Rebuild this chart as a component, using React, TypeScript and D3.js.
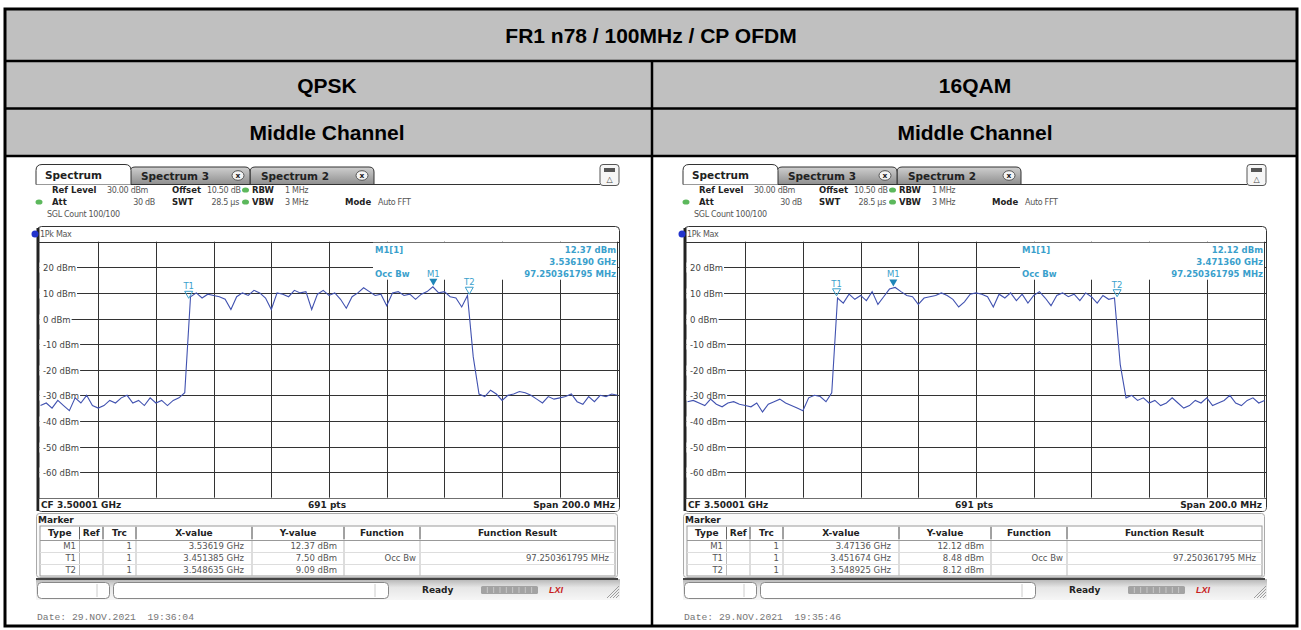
import React, { useEffect, useRef } from 'react';
import * as d3 from 'd3';

const startGHz = 3.40001;
const stopGHz = 3.60001;
const stepGHz = 0.002;
const sweepPoints = 691;
const levelTicks = [20, 10, 0, -10, -20, -30, -40, -50, -60];
const markerNames = ['M1', 'T1', 'T2'];
const tableHeads = ['Type', 'Ref', 'Trc', 'X-value', 'Y-value', 'Function', 'Function Result'];

const title = 'FR1 n78 / 100MHz / CP OFDM';
const modulations = ['QPSK', '16QAM'];
const channel = 'Middle Channel';
const occBw = '97.250361795 MHz';
const dates = ['29.NOV.2021  19:36:04', '29.NOV.2021  19:35:46'];

const qpskTrace = [
  -34, -33, -35, -32, -34, -36, -31, -33, -30, -34,
  -35, -34, -32, -33, -31, -30, -33, -32, -34, -31,
  -33, -32, -34, -32, -31, -29, 8.5, 10, 8, 9.5,
  9, 8.5, 7.5, 3.5, 8.5, 10, 9, 11, 10, 8,
  3.5, 10, 9.5, 8.5, 11, 10, 10.5, 3.5, 9.5, 11,
  9, 10, 7.5, 4, 8.5, 10, 12, 10.5, 9, 9.5,
  5, 10, 10.5, 9, 9.5, 7.5, 9.5, 10.5, 12.37, 10,
  10.5, 8.5, 8, 4.5, 9, -15, -29.5, -30.5, -28, -29.5,
  -32, -30, -29.5, -28.5, -29, -30, -31.5, -33, -30.5, -31.5,
  -31, -30.5, -29.5, -32.5, -33.5, -30.5, -32.5, -30, -30.5, -29.5,
  -30
];
const qpskMarkerGHz = [3.53619, 3.451385, 3.548635];
const qpskMarkerDbm = [12.37, 7.5, 9.09];

const qam16Trace = [
  -32.5, -32, -33, -34, -31.5, -33.5, -34.5, -33, -32.5, -33.5,
  -34, -34.5, -33, -36.5, -33.5, -32.5, -31.5, -33, -34, -35,
  -36, -31, -30, -30.5, -32.5, -29, 8, 6, 9.5, 7.5,
  9, 7, 10.5, 5.5, 8.5, 11.5, 12.12, 10.5, 9, 8.5,
  5.5, 8, 8.5, 9, 10, 9, 7.5, 4.5, 6.5, 9.5,
  10, 9.5, 8.5, 4.5, 9.5, 8, 10, 7, 9.5, 6,
  9, 10.5, 8, 5, 9, 10, 8.5, 9.5, 7, 10,
  8.5, 6, 9, 7.5, 8, -18, -31, -30, -32, -31,
  -33, -32, -34, -33, -31, -33, -35, -34, -32, -33,
  -31, -34, -33, -32, -30, -33, -34, -32, -31, -33,
  -32
];
const qam16MarkerGHz = [3.47136, 3.451674, 3.548925];
const qam16MarkerDbm = [12.12, 8.48, 8.12];

const UI = 'DejaVu Sans, Verdana, sans-serif';
const ARIAL = 'Liberation Sans, Arial, sans-serif';
const MONO = 'Liberation Mono, Courier New, monospace';
const markColor = '#3a9fcc';

const txt = (g: any, x: number, y: number, s: string, size = 9, o: any = {}) =>
  g.append('text')
    .attr('x', x)
    .attr('y', y)
    .attr('dominant-baseline', 'central')
    .attr('text-anchor', o.anchor || 'start')
    .attr('font-family', o.family || UI)
    .attr('font-size', size)
    .attr('font-weight', o.bold ? 'bold' : 'normal')
    .attr('font-style', o.italic ? 'italic' : 'normal')
    .attr('letter-spacing', o.ls || 0)
    .attr('fill', o.fill || '#333')
    .style('white-space', 'pre')
    .text(s);

const tabPath = (x0: number, x1: number, y0: number, y1: number, r: number) =>
  `M${x0},${y1} L${x0},${y0 + r} Q${x0},${y0} ${x0 + r},${y0} L${x1 - r},${y0} Q${x1},${y0} ${x1},${y0 + r} L${x1},${y1}`;

const drawPanel = (svg: any, ox: number, trace: number[], mGHz: number[], mDbm: number[], date: string) => {
  const g = svg.append('g').attr('transform', `translate(${ox},0)`);
  const x = d3.scaleLinear().domain([startGHz, stopGHz]).range([40.5, 617.5]);
  const y = d3.scaleLinear().domain([-70, 30]).range([497.7, 241.7]);

  // tabs
  g.append('line').attr('x1', 36).attr('x2', 600).attr('y1', 184.5).attr('y2', 184.5).attr('stroke', '#333');
  [
    { x0: 250, x1: 374, label: 'Spectrum 2' },
    { x0: 130, x1: 250, label: 'Spectrum 3' }
  ].forEach(tb => {
    g.append('path').attr('d', tabPath(tb.x0, tb.x1, 167, 184.5, 5) + ' Z')
      .attr('fill', 'url(#tabGrad)').attr('stroke', '#333');
    txt(g, tb.x0 + 11, 176, tb.label, 10.5, { bold: true, fill: '#222' });
    g.append('ellipse').attr('cx', tb.x1 - 12).attr('cy', 175.5).attr('rx', 6).attr('ry', 4.8)
      .attr('fill', '#f4f4f4').attr('stroke', '#555');
    txt(g, tb.x1 - 12, 175.5, 'x', 7.5, { bold: true, anchor: 'middle', fill: '#222' });
  });
  g.append('path').attr('d', tabPath(36, 131, 164.5, 184.5, 6)).attr('fill', '#fff').attr('stroke', '#333');
  txt(g, 45, 175, 'Spectrum', 10.5, { bold: true, fill: '#222' });
  g.append('rect').attr('x', 600).attr('y', 164.5).attr('width', 19).attr('height', 21).attr('rx', 3)
    .attr('fill', '#f6f6f6').attr('stroke', '#555');
  g.append('rect').attr('x', 604).attr('y', 168).attr('width', 11).attr('height', 4).attr('fill', '#555');
  txt(g, 609.5, 179.5, '△', 8, { anchor: 'middle', fill: '#444' });

  // settings
  const dot = (cx: number, cy: number) =>
    g.append('ellipse').attr('cx', cx).attr('cy', cy).attr('rx', 3.5).attr('ry', 2.6).attr('fill', '#5cb85c');
  const b = { bold: true, fill: '#222' };
  const v = { fill: '#555' };
  const fs = 8.5;
  const vs = { ...v, ls: -0.3 };
  txt(g, 52, 190, 'Ref Level', fs, b);
  txt(g, 107, 190, '30.00 dBm', 8, vs);
  txt(g, 172, 190, 'Offset', fs, b);
  txt(g, 207, 190, '10.50 dB', 8, vs);
  dot(245.5, 190);
  txt(g, 252, 190, 'RBW', fs, b);
  txt(g, 285, 190, '1 MHz', 8, vs);
  dot(39, 202);
  txt(g, 52, 202, 'Att', fs, b);
  txt(g, 155, 202, '30 dB', 8, { ...vs, anchor: 'end' });
  txt(g, 172, 202, 'SWT', fs, b);
  txt(g, 239, 202, '28.5 µs', 8, { ...vs, anchor: 'end' });
  dot(245.5, 202);
  txt(g, 252, 202, 'VBW', fs, b);
  txt(g, 285, 202, '3 MHz', 8, vs);
  txt(g, 345, 202, 'Mode', fs, b);
  txt(g, 378, 202, 'Auto FFT', 8, vs);
  txt(g, 47, 214, 'SGL Count 100/100', 8, vs);

  // diagram frame
  g.append('rect').attr('x', 37.5).attr('y', 226.5).attr('width', 582).attr('height', 285).attr('rx', 4)
    .attr('fill', '#fff').attr('stroke', '#333');
  g.append('line').attr('x1', 38).attr('x2', 38).attr('y1', 228).attr('y2', 511).attr('stroke', '#222').attr('stroke-width', 3);
  g.append('circle').attr('cx', 35).attr('cy', 234).attr('r', 3.5).attr('fill', '#2233cc');
  txt(g, 40, 234, '1Pk Max', 8, vs);

  const grid = g.append('g').attr('stroke', '#333').attr('stroke-width', 1);
  d3.range(1, 10).forEach(k => {
    const gx = Math.round(x(startGHz + (k * (stopGHz - startGHz)) / 10)) + 0.5;
    grid.append('line').attr('x1', gx).attr('x2', gx).attr('y1', y(30)).attr('y2', y(-70));
  });
  [30, ...levelTicks, -70].forEach(l => {
    const gy = Math.round(y(l)) + 0.5;
    grid.append('line').attr('x1', 38).attr('x2', 619.5).attr('y1', gy).attr('y2', gy);
  });
  g.append('line').attr('x1', 617.5).attr('x2', 617.5).attr('y1', y(30)).attr('y2', y(-70)).attr('stroke', '#333');

  levelTicks.forEach(l => {
    const gy = Math.round(y(l)) + 0.5;
    const bg = g.append('rect').attr('fill', '#fff');
    const label = txt(g, 43, gy, `${l} dBm`, 8.5, { fill: '#444' });
    const w = label.node().getComputedTextLength();
    bg.attr('x', 39.5).attr('y', gy - 5).attr('width', w + 4.5).attr('height', 10);
  });

  // marker readout box
  g.append('rect').attr('x', 373).attr('y', y(30) + 1).attr('width', 244).attr('height', 37).attr('fill', '#fff');
  const mb = { bold: true, fill: markColor };
  txt(g, 375, 250, 'M1[1]', 8.5, mb);
  txt(g, 616, 250, `${mDbm[0].toFixed(2)} dBm`, 8.5, { ...mb, anchor: 'end' });
  txt(g, 616, 262, `${mGHz[0].toFixed(6)} GHz`, 8.5, { ...mb, anchor: 'end' });
  txt(g, 375, 274, 'Occ Bw', 8.5, mb);
  txt(g, 616, 274, occBw, 8.5, { ...mb, anchor: 'end' });

  // trace
  const line = d3.line<number>()
    .x((d, i) => x(startGHz + i * stepGHz))
    .y(d => y(d));
  g.append('path').datum(trace).attr('d', line).attr('fill', 'none')
    .attr('stroke', '#4152b0').attr('stroke-width', 1.1).attr('clip-path', 'url(#gridClip)');

  // markers
  markerNames.forEach((name, i) => {
    const mx = x(mGHz[i]);
    const my = y(mDbm[i]) - 1;
    const tri = `M${mx - 4},${my - 7} L${mx + 4},${my - 7} L${mx},${my} Z`;
    if (name.startsWith('M')) {
      g.append('path').attr('d', tri).attr('fill', '#1f86b8');
    } else {
      g.append('path').attr('d', tri).attr('fill', 'none').attr('stroke', markColor).attr('stroke-width', 1);
    }
    txt(g, mx, my - 12, name, 8.5, { anchor: 'middle', fill: markColor });
  });

  // bottom info line
  g.append('rect').attr('x', 39.5).attr('y', y(-70) + 1).attr('width', 579).attr('height', 12).attr('fill', '#fff');
  txt(g, 41, 505, 'CF 3.50001 GHz', 9, b);
  txt(g, 327, 505, `${sweepPoints} pts`, 9, { ...b, anchor: 'middle' });
  txt(g, 615, 505, 'Span 200.0 MHz', 9, { ...b, anchor: 'end' });

  // marker table
  g.append('rect').attr('x', 36.5).attr('y', 513.5).attr('width', 581).attr('height', 64).attr('rx', 3)
    .attr('fill', '#fafafa').attr('stroke', '#aaa');
  txt(g, 38, 519.5, 'Marker', 9, b);
  g.append('rect').attr('x', 40).attr('y', 526).attr('width', 575).attr('height', 50).attr('fill', '#fff').attr('stroke', '#999');
  const cols = [40, 79.5, 103, 136, 252, 344, 420, 615];
  cols.slice(1, -1).forEach(c => {
    g.append('line').attr('x1', c).attr('x2', c).attr('y1', 526).attr('y2', 576).attr('stroke', '#bbb');
    g.append('line').attr('x1', c).attr('x2', c).attr('y1', 527).attr('y2', 539).attr('stroke', '#666');
  });
  [540, 552, 564].forEach(ly => {
    g.append('line').attr('x1', 40).attr('x2', 615).attr('y1', ly + 0.5).attr('y2', ly + 0.5).attr('stroke', ly === 540 ? '#999' : '#ddd');
  });
  tableHeads.forEach((h, i) => {
    txt(g, (cols[i] + cols[i + 1]) / 2, 533, h, 9, { ...b, anchor: 'middle' });
  });
  markerNames.forEach((name, i) => {
    const ry = 546 + i * 12;
    txt(g, 76, ry, name, 8.5, { ...v, anchor: 'end' });
    txt(g, 132, ry, '1', 8.5, { ...v, anchor: 'end' });
    txt(g, 244, ry, `${mGHz[i]} GHz`, 8.5, { ...v, anchor: 'end' });
    txt(g, 337, ry, `${mDbm[i].toFixed(2)} dBm`, 8.5, { ...v, anchor: 'end' });
    if (i === 1) {
      txt(g, 416, ry, 'Occ Bw', 8.5, { ...v, anchor: 'end' });
      txt(g, 609, ry, occBw, 8.5, { ...v, anchor: 'end' });
    }
  });

  // status bar
  g.append('rect').attr('x', 36).attr('y', 579).attr('width', 584).attr('height', 21).attr('fill', 'url(#statusGrad)');
  g.append('line').attr('x1', 36).attr('x2', 618).attr('y1', 579).attr('y2', 579).attr('stroke', '#444').attr('stroke-width', 2);
  g.append('rect').attr('x', 37.5).attr('y', 582.5).attr('width', 72).attr('height', 16).attr('rx', 4).attr('fill', '#fff').attr('stroke', '#888');
  g.append('line').attr('x1', 97).attr('x2', 97).attr('y1', 584).attr('y2', 597).attr('stroke', '#ccc');
  g.append('rect').attr('x', 113.5).attr('y', 582.5).attr('width', 275).attr('height', 16).attr('rx', 4).attr('fill', '#fff').attr('stroke', '#888');
  g.append('line').attr('x1', 375).attr('x2', 375).attr('y1', 584).attr('y2', 597).attr('stroke', '#ccc');
  txt(g, 422, 590, 'Ready', 9, b);
  g.append('rect').attr('x', 481).attr('y', 586).attr('width', 57).attr('height', 8).attr('rx', 1.5).attr('fill', '#a3a3a3');
  d3.range(1, 9).forEach(k => {
    g.append('line').attr('x1', 481 + k * 6.33).attr('x2', 481 + k * 6.33).attr('y1', 587).attr('y2', 593)
      .attr('stroke', '#d0d0d0').attr('stroke-width', 0.8);
  });
  txt(g, 556, 590, 'LXI', 9, { bold: true, italic: true, anchor: 'middle', fill: '#c81e1e', family: ARIAL });
  d3.range(4).forEach(k => {
    g.append('line').attr('x1', 607 + k * 3).attr('y1', 598).attr('x2', 619).attr('y2', 586 + k * 3)
      .attr('stroke', '#888').attr('stroke-width', 0.8);
  });

  txt(g, 37, 617, `Date: ${date}`, 9.7, { family: MONO, fill: '#777' });
};

const App = () => {
  const ref = useRef<SVGSVGElement>(null);

  useEffect(() => {
    document.body.style.margin = '0';
    const svg = d3.select(ref.current);
    svg.selectAll('*').remove();

    const defs = svg.append('defs');
    const tabGrad = defs.append('linearGradient').attr('id', 'tabGrad').attr('x1', 0).attr('y1', 0).attr('x2', 0).attr('y2', 1);
    tabGrad.append('stop').attr('offset', '0%').attr('stop-color', '#cfcfcf');
    tabGrad.append('stop').attr('offset', '100%').attr('stop-color', '#8e8e8e');
    const statusGrad = defs.append('linearGradient').attr('id', 'statusGrad').attr('x1', 0).attr('y1', 0).attr('x2', 0).attr('y2', 1);
    statusGrad.append('stop').attr('offset', '0%').attr('stop-color', '#b4b4b4');
    statusGrad.append('stop').attr('offset', '40%').attr('stop-color', '#e6e6e6');
    statusGrad.append('stop').attr('offset', '100%').attr('stop-color', '#f6f6f6');
    defs.append('clipPath').attr('id', 'gridClip')
      .append('rect').attr('x', 39.5).attr('y', 241.7).attr('width', 579).attr('height', 256);

    // report table
    svg.append('rect').attr('x', 5).attr('y', 9).attr('width', 1292).attr('height', 147).attr('fill', '#c0c0c0');
    svg.append('rect').attr('x', 5).attr('y', 156).attr('width', 1292).attr('height', 470).attr('fill', '#fff');

    drawPanel(svg, 0, qpskTrace, qpskMarkerGHz, qpskMarkerDbm, dates[0]);
    drawPanel(svg, 647, qam16Trace, qam16MarkerGHz, qam16MarkerDbm, dates[1]);

    const border = svg.append('g').attr('stroke', '#000').attr('fill', 'none');
    border.append('rect').attr('x', 5).attr('y', 9).attr('width', 1292).attr('height', 617).attr('stroke-width', 3);
    [61, 108.5, 156].forEach(ly => {
      border.append('line').attr('x1', 5).attr('x2', 1297).attr('y1', ly).attr('y2', ly).attr('stroke-width', 2.5);
    });
    border.append('line').attr('x1', 652).attr('x2', 652).attr('y1', 61).attr('y2', 626).attr('stroke-width', 2.5);

    const hd = { bold: true, anchor: 'middle', fill: '#000', family: ARIAL };
    txt(svg, 651, 35, title, 21, hd);
    modulations.forEach((m, i) => {
      const cx = i === 0 ? 327 : 975;
      txt(svg, cx, 85, m, 21, hd);
      txt(svg, cx, 132, channel, 21, hd);
    });
  }, []);

  return <svg ref={ref} width={1301} height={630} style={{ display: 'block' }} />;
};

export default App;
